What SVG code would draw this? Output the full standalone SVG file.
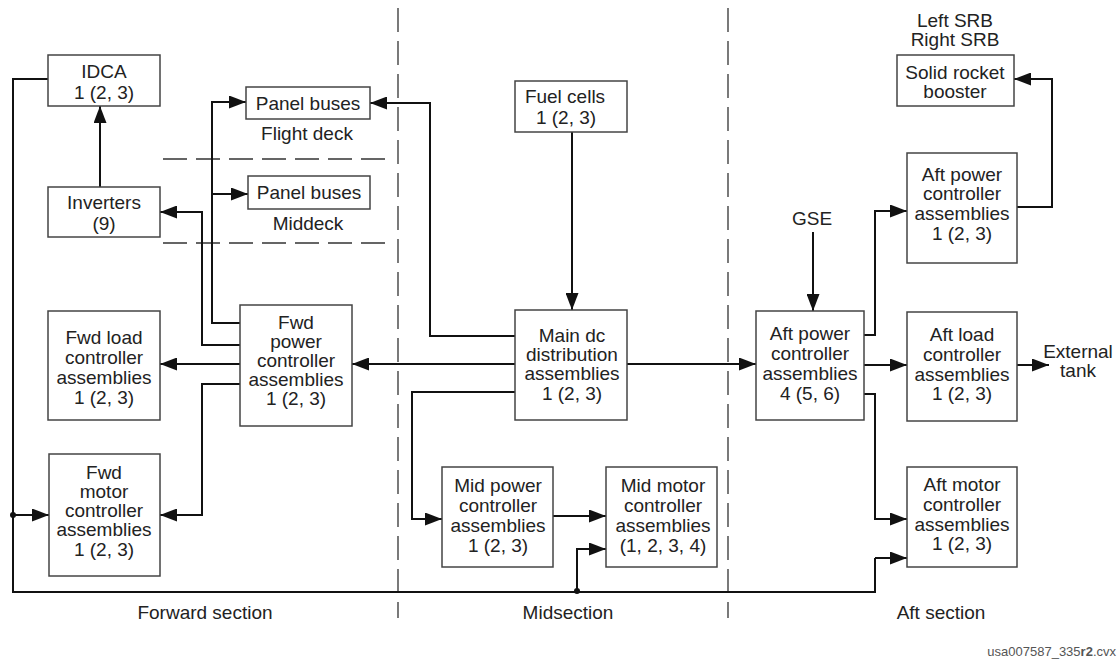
<svg xmlns="http://www.w3.org/2000/svg" width="1120" height="661" viewBox="0 0 1120 661">
<defs>
<style>
text{font-family:"Liberation Sans",Arial,sans-serif;font-size:19px;fill:#222;text-anchor:middle}
.box{fill:#fff;stroke:#444;stroke-width:1.5}
.c{fill:none;stroke:#111;stroke-width:2}
.a{marker-end:url(#ah)}
.dash{fill:none;stroke:#333;stroke-width:1.3;stroke-dasharray:24 9}
.foot{font-size:13px;fill:#555;text-anchor:end}
</style>
<marker id="ah" markerUnits="userSpaceOnUse" markerWidth="17" markerHeight="13" refX="17" refY="6.5" orient="auto">
<path d="M0,0 L17,6.5 L0,13 z" fill="#111"/>
</marker>
</defs>
<rect width="1120" height="661" fill="#fff"/>

<g id="dividers">
<line class="dash" x1="398" y1="8" x2="398" y2="618"/>
<line class="dash" x1="728" y1="8" x2="728" y2="618"/>
<line class="dash" x1="163" y1="159" x2="392" y2="159"/>
<line class="dash" x1="163" y1="243" x2="392" y2="243"/>
</g>

<g id="connectors">
<line class="c a" x1="100" y1="187" x2="100" y2="106"/>
<polyline class="c" points="48,79 13,79 13,592 875,592 875,558"/>
<line class="c a" x1="875" y1="558" x2="907" y2="558"/>
<circle cx="13" cy="515" r="3" fill="#111"/>
<line class="c a" x1="13" y1="515" x2="49" y2="515"/>
<circle cx="577" cy="591" r="3" fill="#111"/>
<polyline class="c a" points="577,591 577,549 606,549"/>
<polyline class="c a" points="240,323 212,323 212,102 246,102"/>
<line class="c a" x1="212" y1="194" x2="248" y2="194"/>
<polyline class="c a" points="240,345 202,345 202,212 160,212"/>
<line class="c a" x1="240" y1="364" x2="160" y2="364"/>
<polyline class="c a" points="240,384 202,384 202,515 160,515"/>
<polyline class="c a" points="515,336 430,336 430,103 370,103"/>
<line class="c a" x1="515" y1="364" x2="352" y2="364"/>
<line class="c a" x1="627" y1="364" x2="756" y2="364"/>
<polyline class="c a" points="515,392 412,392 412,519 442,519"/>
<line class="c a" x1="553" y1="516" x2="606" y2="516"/>
<line class="c a" x1="572" y1="132" x2="572" y2="310"/>
<line class="c a" x1="813" y1="232" x2="813" y2="311"/>
<polyline class="c a" points="864,335 875,335 875,211 907,211"/>
<polyline class="c a" points="1017,207 1052,207 1052,79 1014,79"/>
<line class="c a" x1="864" y1="365" x2="907" y2="365"/>
<line class="c a" x1="1017" y1="365" x2="1049" y2="365"/>
<polyline class="c a" points="864,394 875,394 875,519 907,519"/>
</g>

<g id="idca"><rect class="box" x="48" y="55" width="112" height="51"/>
<text x="104" y="78">IDCA</text><text x="104" y="99">1 (2, 3)</text></g>

<g id="inverters"><rect class="box" x="48" y="187" width="112" height="50"/>
<text x="104" y="209">Inverters</text><text x="104" y="230">(9)</text></g>

<g id="panel-fd"><rect class="box" x="246" y="87" width="124" height="32"/>
<text x="308" y="110">Panel buses</text></g>
<text x="307" y="140">Flight deck</text>

<g id="panel-md"><rect class="box" x="248" y="176" width="122" height="33"/>
<text x="309" y="199">Panel buses</text></g>
<text x="308" y="230">Middeck</text>

<g id="fwd-load"><rect class="box" x="48" y="311" width="112" height="109"/>
<text x="104" y="344">Fwd load</text><text x="104" y="364">controller</text><text x="104" y="384">assemblies</text><text x="104" y="404">1 (2, 3)</text></g>

<g id="fwd-power"><rect class="box" x="240" y="305" width="112" height="121"/>
<text x="296" y="329">Fwd</text><text x="296" y="348">power</text><text x="296" y="367">controller</text><text x="296" y="386">assemblies</text><text x="296" y="405">1 (2, 3)</text></g>

<g id="fwd-motor"><rect class="box" x="49" y="454" width="111" height="122"/>
<text x="104" y="479">Fwd</text><text x="104" y="498">motor</text><text x="104" y="517">controller</text><text x="104" y="536">assemblies</text><text x="104" y="556">1 (2, 3)</text></g>

<g id="fuel-cells"><rect class="box" x="515" y="81" width="112" height="51"/>
<text x="565" y="103">Fuel cells</text><text x="566" y="124">1 (2, 3)</text></g>

<g id="main-dc"><rect class="box" x="515" y="310" width="112" height="110"/>
<text x="572" y="342">Main dc</text><text x="572" y="361">distribution</text><text x="572" y="380">assemblies</text><text x="572" y="400">1 (2, 3)</text></g>

<g id="mid-power"><rect class="box" x="442" y="467" width="111" height="100"/>
<text x="498" y="492">Mid power</text><text x="498" y="512">controller</text><text x="498" y="532">assemblies</text><text x="498" y="552">1 (2, 3)</text></g>

<g id="mid-motor"><rect class="box" x="606" y="467" width="111" height="100"/>
<text x="663" y="492">Mid motor</text><text x="663" y="512">controller</text><text x="663" y="532">assemblies</text><text x="663" y="552">(1, 2, 3, 4)</text></g>

<g id="srb-labels"><text x="955" y="27">Left SRB</text><text x="955" y="46">Right SRB</text></g>
<g id="srb"><rect class="box" x="897" y="55" width="117" height="51"/>
<text x="955" y="79">Solid rocket</text><text x="955" y="98">booster</text></g>

<g id="gse"><text x="812" y="225">GSE</text></g>

<g id="aft-power-srb"><rect class="box" x="907" y="153" width="110" height="110"/>
<text x="962" y="181">Aft power</text><text x="962" y="200">controller</text><text x="962" y="220">assemblies</text><text x="962" y="240">1 (2, 3)</text></g>

<g id="aft-power"><rect class="box" x="756" y="311" width="108" height="109"/>
<text x="810" y="340">Aft power</text><text x="810" y="360">controller</text><text x="810" y="380">assemblies</text><text x="810" y="400">4 (5, 6)</text></g>

<g id="aft-load"><rect class="box" x="907" y="312" width="110" height="109"/>
<text x="962" y="341">Aft load</text><text x="962" y="361">controller</text><text x="962" y="381">assemblies</text><text x="962" y="400">1 (2, 3)</text></g>

<g id="aft-motor"><rect class="box" x="907" y="467" width="110" height="100"/>
<text x="962" y="491">Aft motor</text><text x="962" y="511">controller</text><text x="962" y="531">assemblies</text><text x="962" y="550">1 (2, 3)</text></g>

<g id="external-tank"><text x="1078" y="358">External</text><text x="1078" y="377">tank</text></g>

<g id="section-labels">
<text x="205" y="619">Forward section</text>
<text x="568" y="619">Midsection</text>
<text x="941" y="619">Aft section</text>
</g>
<text class="foot" x="1116" y="656">usa007587_335<tspan font-weight="bold">r2</tspan>.cvx</text>
</svg>
